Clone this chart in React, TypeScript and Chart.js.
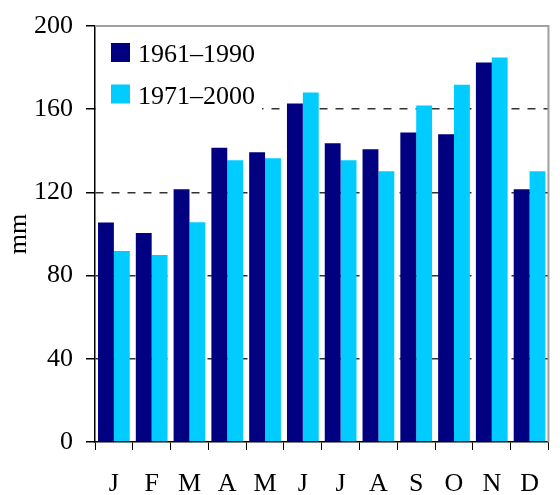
import React, { useEffect, useRef } from "react";
import { Chart, registerables } from "chart.js";

Chart.register(...registerables);

const months = ["J", "F", "M", "A", "M", "J", "J", "A", "S", "O", "N", "D"];
const series1Label = "1961–1990";
const series2Label = "1971–2000";
const series1 = [105.5, 100.5, 121.5, 141.5, 139.3, 162.8, 143.6, 140.7, 148.8, 147.9, 182.4, 121.5];
const series2 = [91.8, 89.9, 105.7, 135.4, 136.4, 168, 135.4, 130.2, 161.8, 171.8, 184.8, 130.2];
const yTicks = [0, 40, 80, 120, 160, 200];

const DARK = "#000080";
const LIGHT = "#00CCFF";
const FONT = "'Liberation Serif', 'Times New Roman', serif";
const FS = 26;

const legendPlugin = {
  id: "innerLegend",
  beforeDatasetsDraw(chart: any) {
    const ctx = chart.ctx;
    const area = chart.chartArea;
    ctx.save();
    ctx.fillStyle = "#ffffff";
    ctx.fillRect(area.left + 1, area.top + 2, 166, 86);
    ctx.restore();
  },
  afterDatasetsDraw(chart: any) {
    const ctx = chart.ctx;
    const area = chart.chartArea;
    ctx.save();
    ctx.strokeStyle = "#a0a0a0";
    ctx.lineWidth = 2;
    ctx.beginPath();
    ctx.moveTo(area.left, area.top);
    ctx.lineTo(area.right, area.top);
    ctx.lineTo(area.right, area.bottom);
    ctx.stroke();
    const items = chart.data.datasets;
    ctx.font = `${FS}px ${FONT}`;
    ctx.textBaseline = "alphabetic";
    ctx.textAlign = "left";
    items.forEach((ds: any, i: number) => {
      const bx = area.left + 16;
      const by = area.top + 17 + i * 41.5;
      ctx.fillStyle = ds.backgroundColor;
      ctx.fillRect(bx, by, 19, 19);
      ctx.fillStyle = "#000";
      ctx.fillText(ds.label, bx + 27, by + 19);
    });
    ctx.restore();
  },
};

export default function App() {
  const ref = useRef<HTMLCanvasElement>(null);
  useEffect(() => {
    document.body.style.margin = "0";
    const canvas = ref.current!;
    const chart = new Chart(canvas, {
      type: "bar",
      data: {
        labels: months,
        datasets: [
          { label: series1Label, data: series1, backgroundColor: DARK, categoryPercentage: 0.84, barPercentage: 1 },
          { label: series2Label, data: series2, backgroundColor: LIGHT, categoryPercentage: 0.84, barPercentage: 1 },
        ],
      },
      options: {
        animation: false,
        responsive: false,
        layout: { padding: { top: 24, right: 1, left: 0, bottom: 0 } },
        plugins: { legend: { display: false }, tooltip: { enabled: false } },
        scales: {
          x: {
            grid: {
              offset: true,
              drawOnChartArea: false,
              drawTicks: true,
              tickLength: 8,
              tickColor: "#000",
            },
            border: { display: true, color: "#000", width: 1.5 },
            ticks: {
              color: "#000",
              font: { family: FONT, size: FS, lineHeight: 1 },
              padding: 21,
              maxRotation: 0,
              autoSkip: false,
            },
            afterFit: (s: any) => {
              s.height = 53;
            },
          },
          y: {
            min: 0,
            max: 200,
            afterBuildTicks: (s: any) => {
              s.ticks = yTicks.map((v) => ({ value: v }));
            },
            grid: {
              color: (c: any) => (c.tick && (c.tick.value === 0 || c.tick.value === 200) ? "rgba(0,0,0,0)" : "#333"),
              lineWidth: 1.5,
              tickLength: 9,
              tickColor: "#000",
              tickBorderDash: [],
            },
            border: { display: true, color: "#000", width: 1.5, dash: [8, 8] },
            ticks: {
              color: "#000",
              font: { family: FONT, size: FS, lineHeight: 1 },
              padding: 13,
            },
            title: {
              display: true,
              text: "mm",
              color: "#000",
              font: { family: FONT, size: FS, lineHeight: 1 },
              padding: { top: 6, bottom: 5 },
            },
            afterFit: (s: any) => {
              s.width = 95;
            },
          },
        },
      },
      plugins: [legendPlugin],
    });
    return () => chart.destroy();
  }, []);
  return <canvas ref={ref} width={560} height={495} style={{ display: "block" }} />;
}
